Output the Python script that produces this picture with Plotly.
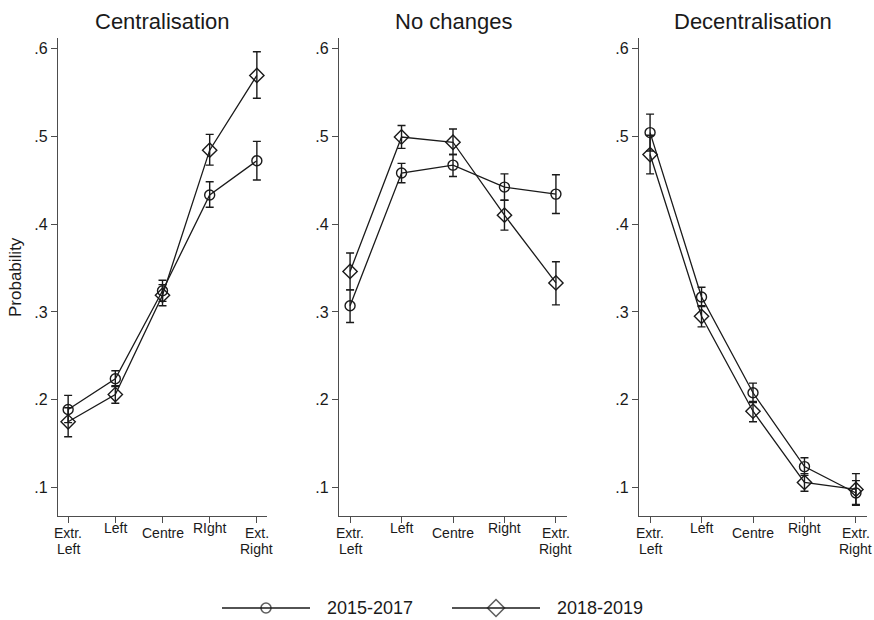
import plotly.graph_objects as go

# ---------------- data ----------------
panel_titles = ["Centralisation", "No changes", "Decentralisation"]
ticks_p1 = ["Extr.<br>Left", "Left", "Centre", "RIght", "Ext.<br>Right"]
ticks_p23 = ["Extr.<br>Left", "Left", "Centre", "Right", "Extr.<br>Right"]
series_names = ["2015-2017", "2018-2019"]
y_tickvals = [0.1, 0.2, 0.3, 0.4, 0.5, 0.6]
y_ticktext = [".1", ".2", ".3", ".4", ".5", ".6"]

cen_1517 = [0.189, 0.224, 0.324, 0.433, 0.472]
cen_1517_lo = [0.174, 0.215, 0.312, 0.419, 0.450]
cen_1517_hi = [0.205, 0.233, 0.336, 0.448, 0.494]
cen_1819 = [0.175, 0.206, 0.319, 0.484, 0.569]
cen_1819_lo = [0.158, 0.196, 0.307, 0.467, 0.543]
cen_1819_hi = [0.191, 0.216, 0.331, 0.502, 0.596]

nc_1517 = [0.307, 0.458, 0.467, 0.442, 0.434]
nc_1517_lo = [0.288, 0.447, 0.454, 0.427, 0.412]
nc_1517_hi = [0.325, 0.469, 0.479, 0.457, 0.456]
nc_1819 = [0.346, 0.499, 0.493, 0.410, 0.333]
nc_1819_lo = [0.325, 0.486, 0.479, 0.393, 0.308]
nc_1819_hi = [0.367, 0.512, 0.508, 0.427, 0.357]

dec_1517 = [0.504, 0.317, 0.208, 0.124, 0.094]
dec_1517_lo = [0.483, 0.306, 0.197, 0.114, 0.080]
dec_1517_hi = [0.525, 0.328, 0.219, 0.134, 0.108]
dec_1819 = [0.479, 0.295, 0.187, 0.106, 0.098]
dec_1819_lo = [0.457, 0.283, 0.175, 0.096, 0.081]
dec_1819_hi = [0.501, 0.307, 0.198, 0.116, 0.116]

panels = [
    [(cen_1517, cen_1517_lo, cen_1517_hi), (cen_1819, cen_1819_lo, cen_1819_hi)],
    [(nc_1517, nc_1517_lo, nc_1517_hi), (nc_1819, nc_1819_lo, nc_1819_hi)],
    [(dec_1517, dec_1517_lo, dec_1517_hi), (dec_1819, dec_1819_lo, dec_1819_hi)],
]
panel_ticks = [ticks_p1, ticks_p23, ticks_p23]

# ---------------- style ----------------
W, H = 874, 620
FONT = "Liberation Sans, Arial, Helvetica, sans-serif"
INK = "#1a1a1a"
AX = "#4d4d4d"
symbols = ["circle-open", "diamond-open"]
msizes = [10, 11]
leg_msizes = [10, 13]
x_dom = [(58, 267), (339, 567), (639, 867)]
y_top, y_bot = 38, 516
y_range = [0.0678, 0.6116]
x_range = [-0.215, 4.215]
# x tick label layout (pixel centres of first line, line step)
label_y_single = [528, 528, 533, 528, 528]
label_y_multi = 532.5
label_step = 16.5

fig = go.Figure()

for p, (series, ticks) in enumerate(zip(panels, panel_ticks)):
    ax = "" if p == 0 else str(p + 1)
    for s, (vals, lo, hi) in enumerate(series):
        fig.add_trace(go.Scatter(
            x=list(range(len(vals))), y=vals,
            mode="lines+markers",
            line=dict(color=INK, width=1.3),
            marker=dict(symbol=symbols[s], size=msizes[s], color=INK,
                        line=dict(width=1.4, color=INK)),
            error_y=dict(type="data", symmetric=False,
                         array=[h - v for h, v in zip(hi, vals)],
                         arrayminus=[v - l for v, l in zip(vals, lo)],
                         color=INK, thickness=1.4, width=4),
            xaxis="x" + ax, yaxis="y" + ax, showlegend=False,
        ))
    x0, x1 = x_dom[p]
    fig.layout["xaxis" + ax] = dict(
        domain=[x0 / W, x1 / W], range=x_range, anchor="y" + ax,
        tickvals=list(range(len(ticks))), showticklabels=False,
        showline=True, linecolor=AX, linewidth=1.3,
        ticks="outside", ticklen=6, tickcolor=AX, tickwidth=1.3,
        showgrid=False, zeroline=False,
    )
    fig.layout["yaxis" + ax] = dict(
        domain=[1 - y_bot / H, 1 - y_top / H], range=y_range, anchor="x" + ax,
        tickvals=y_tickvals, ticktext=y_ticktext,
        showline=True, linecolor=AX, linewidth=1.3,
        ticks="outside", ticklen=6, tickcolor=AX, tickwidth=1.3,
        showgrid=False, zeroline=False,
        tickfont=dict(family=FONT, size=16, color=INK),
    )
    # category labels as text on the x axis positions
    for i, lab in enumerate(ticks):
        lines = lab.split("<br>")
        base = label_y_multi if len(lines) > 1 else label_y_single[i]
        for k, ln in enumerate(lines):
            fig.add_annotation(text=ln, xref="x" + ax, yref="paper", x=i,
                               y=1 - (base + k * label_step) / H,
                               showarrow=False, xanchor="center",
                               yanchor="middle", borderpad=0,
                               font=dict(family=FONT, size=14, color=INK))
    fig.add_annotation(text=panel_titles[p], xref="paper", yref="paper",
                       x=(x0 + x1) / 2 / W, y=1 - 21 / H, showarrow=False,
                       xanchor="center", yanchor="middle",
                       font=dict(family=FONT, size=22, color=INK))

fig.add_annotation(text="Probability", xref="paper", yref="paper",
                   x=15 / W, y=1 - 277 / H, textangle=-90, showarrow=False,
                   xanchor="center", yanchor="middle",
                   font=dict(family=FONT, size=17, color=INK))

# ---------------- legend (drawn manually) ----------------
leg_y = 608
leg_items = [(222, 310, 325), (452, 540, 555)]
leg_top, leg_bot = 596, 620
fig.layout["xaxis4"] = dict(domain=[0, 1], range=[0, W], visible=False, anchor="y4")
fig.layout["yaxis4"] = dict(domain=[1 - leg_bot / H, 1 - leg_top / H],
                            range=[leg_bot, leg_top], visible=False, anchor="x4")
for s, (lx0, lx1, tx) in enumerate(leg_items):
    fig.add_trace(go.Scatter(
        x=[lx0, (lx0 + lx1) / 2, lx1], y=[leg_y] * 3, mode="lines+markers",
        line=dict(color=INK, width=1.6),
        marker=dict(symbol=symbols[s], size=[0, leg_msizes[s], 0], color=INK,
                    line=dict(width=1.6, color=INK)),
        xaxis="x4", yaxis="y4", showlegend=False, hoverinfo="skip",
        cliponaxis=False))
    fig.add_annotation(text=series_names[s], xref="paper", yref="paper",
                       x=tx / W, y=1 - leg_y / H, showarrow=False,
                       xanchor="left", yanchor="middle",
                       font=dict(family=FONT, size=18, color=INK))

fig.update_layout(width=W, height=H, margin=dict(l=0, r=0, t=0, b=0),
                  paper_bgcolor="white", plot_bgcolor="rgba(0,0,0,0)",
                  showlegend=False)
fig.write_html("out.html")
